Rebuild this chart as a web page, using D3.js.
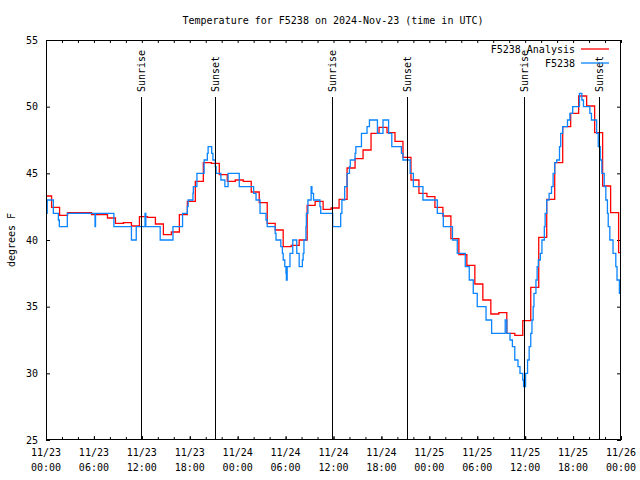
<!DOCTYPE html>
<html><head><meta charset="utf-8">
<script src="https://cdn.jsdelivr.net/npm/d3@7"></script>
<style>
body{margin:0;background:#fff;}
text{font-family:"DejaVu Sans Mono",monospace;font-size:10px;fill:#000;}
</style></head>
<body><svg id="c" width="640" height="480"></svg>
<script>
const chartTitle = "Temperature for F5238 on 2024-Nov-23 (time in UTC)";
const yLabel = "degrees F";
const seriesNames = ["F5238 Analysis", "F5238"];
const seriesColors = ["#ff0000", "#0a84ff"];
const startTime = Date.UTC(2024, 10, 23, 0, 0);
const endTime = Date.UTC(2024, 10, 26, 0, 0);
const yTicks = [25, 30, 35, 40, 45, 50, 55];

// Analysis: hourly values (each valid from HH-0:18 to HH+0:42)
const analysisTemps = [43.3, 42.45, 41.85, 42.05, 42.05, 42.05, 41.9, 41.9, 41.65, 41.25,
  41.3, 41.05, 41.75, 41.7, 41.2, 40.4, 40.6, 41.9, 42.9, 44.4,
  45.8, 45.75, 44.9, 44.4, 44.5, 44.4, 43.6, 42.8, 41.25, 40.75,
  39.5, 39.6, 40.0, 42.6, 42.9, 42.3, 42.4, 43.05, 45.4, 46.1,
  46.75, 48.0, 48.45, 48.05, 47.4, 46.2, 44.5, 43.5, 43.25, 42.45,
  41.8, 40.1, 38.9, 38.1, 36.7, 35.5, 34.45, 34.55, 33.0, 32.85,
  33.95, 36.45, 40.2, 43.05, 45.8, 48.5, 49.5, 50.8, 50.05, 48.05,
  44.05, 42.05, 39.05];
const analysisOffsetHours = -0.3;

// Station observations: hours since start, temperature
const obsHours = [0, 0.05, 0.15, 0.92, 1.55, 1.67, 2.67, 6.14, 6.2, 8.5,
  10.7, 11.3, 12.4, 12.5, 14.3, 15.9, 17.1, 17.7, 17.8, 18.4,
  18.45, 18.9, 19.8, 20.2, 20.3, 20.75, 20.9, 21.2, 21.3, 21.9,
  22.4, 22.8, 24.2, 26.0, 26.3, 26.8, 27.55, 27.7, 28.7, 28.8,
  29.4, 29.6, 29.7, 29.9, 30.05, 30.1, 30.2, 30.55, 30.9, 31.4,
  31.7, 32.1, 32.2, 32.3, 32.55, 32.6, 32.8, 33.2, 33.3, 33.5,
  34.3, 34.4, 35.9, 36.9, 37.05, 37.4, 37.7, 38.0, 38.1, 38.7,
  38.8, 39.5, 40.2, 40.5, 41.5, 42.2, 42.9, 43.3, 44.5, 44.7,
  45.6, 46.0, 47.2, 49.0, 49.75, 50.9, 51.5, 52.5, 53.0, 53.5,
  54.0, 55.1, 55.8, 57.5, 57.7, 58.1, 58.4, 58.7, 59.1, 59.35,
  59.7, 59.8, 60.05, 60.3, 60.5, 60.7, 60.85, 61.0, 61.1, 61.35,
  61.5, 61.65, 61.9, 62.1, 62.4, 62.5, 62.7, 63.0, 63.3, 63.5,
  63.7, 63.95, 64.3, 64.45, 64.7, 65.3, 65.6, 65.95, 66.8, 67.1,
  67.3, 68.1, 68.3, 68.95, 69.15, 69.4, 69.6, 69.9, 70.1, 70.3,
  70.4, 70.6, 71.0, 71.35, 71.5, 71.8, 72.0];
const obsTemps = [43, 42, 43, 42, 41.5, 41, 42, 41, 42, 41,
  40, 41, 42, 41, 40, 41, 42, 42.5, 43, 43.5,
  44, 45, 46, 46.5, 47, 46.5, 46, 45.5, 45, 44.5,
  44, 45, 44, 43.5, 43, 42, 41.5, 41, 40.5, 40,
  39.5, 39, 38.5, 38, 37.5, 37, 38, 39, 40, 39,
  38, 38.5, 39, 40, 41, 42, 43, 44, 43.5, 43,
  42.5, 42, 41, 42, 43, 44, 45, 45.5, 46, 46.5,
  47, 48, 48.5, 49, 48, 49, 48, 47, 46.5, 46,
  45, 44, 43, 42, 41, 40, 39, 38, 37, 36,
  35, 34, 33, 34, 33, 32.5, 32, 31, 30.5, 30,
  29.5, 29, 30, 31, 32, 33, 34, 35, 36, 37,
  38, 38.5, 39, 40, 41, 42, 43, 43.5, 44, 45,
  45.8, 46, 47, 48, 48.5, 49, 49.5, 50, 51, 50.5,
  50, 49.5, 49, 48, 47, 46, 45, 44, 43, 42,
  41, 40, 39, 38, 37, 36, 36];

const sunEventNames = ["Sunrise", "Sunset", "Sunrise", "Sunset", "Sunrise", "Sunset"];
const sunEventHours = [11.9, 21.2, 35.85, 45.24, 59.9, 69.28];

const HOUR = 3600e3;
const svg = d3.select("#c");
const L = 46, R = 621, T = 40, B = 440;
const x = d3.scaleUtc().domain([new Date(startTime), new Date(endTime)]).range([L, R]);
const y = d3.scaleLinear().domain([25, 55]).range([B, T]);
const tAt = h => new Date(startTime + h * HOUR);

svg.append("defs").append("clipPath").attr("id", "clip")
  .append("rect").attr("x", L).attr("y", T).attr("width", R - L).attr("height", B - T);

// title
svg.append("text").attr("x", 333).attr("y", 24).attr("text-anchor", "middle").text(chartTitle);
// y label
svg.append("text").attr("transform", "translate(15,240) rotate(-90)")
  .attr("text-anchor", "middle").text(yLabel);

const fmtD = d3.utcFormat("%m/%d"), fmtT = d3.utcFormat("%H:%M");
// bottom axis
const gB = svg.append("g").attr("transform", `translate(0,${B})`)
  .call(d3.axisBottom(x).ticks(d3.utcHour.every(6)).tickSize(-4).tickFormat(""));
gB.select(".domain").remove();
svg.append("g").attr("transform", `translate(0,${B})`)
  .call(d3.axisBottom(x).ticks(d3.utcHour.every(2)).tickSize(-3).tickFormat(""))
  .select(".domain").remove();
const tickDates = x.ticks(d3.utcHour.every(6));
const lab = svg.append("g");
tickDates.forEach(d => {
  const t = lab.append("text").attr("text-anchor", "middle");
  t.append("tspan").attr("x", x(d)).attr("y", 456).text(fmtD(d));
  t.append("tspan").attr("x", x(d)).attr("y", 471).text(fmtT(d));
});
// top axis
svg.append("g").attr("transform", `translate(0,${T})`)
  .call(d3.axisTop(x).ticks(d3.utcHour.every(2)).tickSize(-3).tickFormat(""))
  .select(".domain").remove();
// left axis
const gL = svg.append("g").attr("transform", `translate(${L},0)`)
  .call(d3.axisLeft(y).tickValues(yTicks).tickSize(-4).tickPadding(8).tickFormat(d3.format("d")));
gL.select(".domain").remove();
gL.selectAll("text").style("font-family", '"DejaVu Sans Mono",monospace').style("font-size", "10px");
// right axis
svg.append("g").attr("transform", `translate(${R},0)`)
  .call(d3.axisRight(y).tickValues(yTicks).tickSize(-4).tickFormat(""))
  .select(".domain").remove();
svg.selectAll(".tick line").attr("stroke", "#000");

// data lines
const plot = svg.append("g").attr("clip-path", "url(#clip)");
const line = d3.line().curve(d3.curveStepAfter).x(d => x(d[0])).y(d => y(d[1]));
const analysisData = analysisTemps.map((v, i) => [tAt(i + analysisOffsetHours), v]);
analysisData.push([tAt(72.5), analysisTemps[analysisTemps.length - 1]]);
const obsData = obsHours.map((h, i) => [tAt(h), obsTemps[i]]);
plot.append("path").datum(analysisData).attr("d", line)
  .attr("fill", "none").attr("stroke", seriesColors[0]).attr("stroke-width", 1.3);
plot.append("path").datum(obsData).attr("d", line)
  .attr("fill", "none").attr("stroke", seriesColors[1]).attr("stroke-width", 1.3);

// sun events
sunEventHours.forEach((h, i) => {
  const xx = Math.round(x(tAt(h))) + 0.5;
  svg.append("line").attr("x1", xx).attr("x2", xx).attr("y1", 97).attr("y2", B)
    .attr("stroke", "#000").attr("stroke-width", 1);
  svg.append("text").attr("transform", `translate(${xx},92) rotate(-90)`)
    .attr("dy", "0.35em").text(sunEventNames[i]);
});

// legend
[0, 1].forEach(i => {
  const yy = 49 + i * 14;
  svg.append("text").attr("x", 575).attr("y", yy).attr("dy", "0.35em")
    .attr("text-anchor", "end").text(seriesNames[i]);
  svg.append("line").attr("x1", 581).attr("x2", 609).attr("y1", yy).attr("y2", yy)
    .attr("stroke", seriesColors[i]).attr("stroke-width", 1.3);
});

// frame
svg.append("rect").attr("x", L + 0.5).attr("y", T + 0.5).attr("width", R - L - 1).attr("height", B - T - 1)
  .attr("fill", "none").attr("stroke", "#000").attr("stroke-width", 1);
</script></body></html>
